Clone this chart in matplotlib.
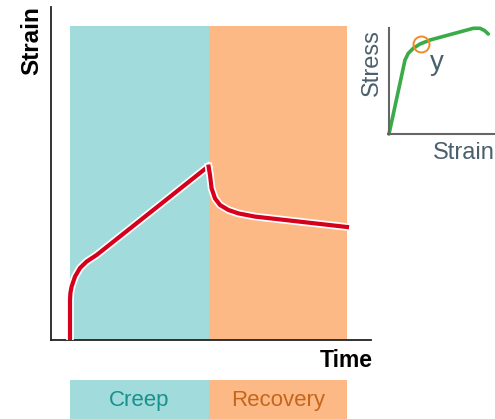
import matplotlib.pyplot as plt
import matplotlib.patheffects as pe

# main chart: strain vs time (arbitrary units)
creep_t = [0.95, 0.95, 0.97, 1.03, 1.2, 1.45, 1.78, 2.28, 7.85]
creep_strain = [0.0, 2.0, 2.35, 2.67, 3.17, 3.6, 3.92, 4.25, 8.67]
recov_t = [7.88, 7.95, 8.03, 8.2, 8.45, 8.87, 9.37, 10.2, 14.8]
recov_strain = [8.67, 8.25, 7.58, 7.08, 6.75, 6.5, 6.33, 6.17, 5.65]
phases = ["Creep", "Recovery"]
phase_start = [0.95, 7.9]
phase_end = [7.9, 14.8]

# inset: stress vs strain
inset_strain = [0, 16, 19.3, 24.3, 31, 41, 84.3, 91, 95.5, 99.3]
inset_stress = [0, 74, 80.7, 85.7, 90, 94, 105.7, 105.7, 103.5, 100]
yield_pt = (31.7, 90)

teal = "#a1dbdb"
orange = "#fdb985"
text_cols = ["#17918c", "#c4661c"]
red = "#d6001c"
green = "#3aab47"
grey_txt = "#4a606c"

fig = plt.figure(figsize=(4.95, 4.19), dpi=100)
ax = fig.add_axes([51 / 495, 79 / 419, 320 / 495, 333 / 419])
ax.set_xlim(0, 16)
ax.set_ylim(0, 16.65)
for s, e, c in zip(phase_start, phase_end, [teal, orange]):
    ax.axvspan(s, e, ymin=0, ymax=15.7 / 16.65, color=c, lw=0)
stroke = [pe.withStroke(linewidth=5.5, foreground="white")]
ax.plot(creep_t, creep_strain, color=red, lw=3, solid_joinstyle="round",
        path_effects=stroke, zorder=3)
ax.plot(recov_t, recov_strain, color=red, lw=3, solid_joinstyle="round",
        path_effects=stroke, zorder=3)
ax.spines[["top", "right"]].set_visible(False)
for sp in ["left", "bottom"]:
    ax.spines[sp].set_linewidth(1.3)
    ax.spines[sp].set_color("#222222")
ax.set_xticks([])
ax.set_yticks([])
fig.text(32 / 495, 1 - 41 / 419, "Strain", rotation=90, ha="center", va="center",
         fontsize=17.5, fontweight="bold", family="Liberation Sans")
fig.text(373 / 495, 1 - 360 / 419, "Time", ha="right", va="center",
         fontsize=16.5, fontweight="bold", family="Liberation Sans")

# phase boxes under the chart
bx = fig.add_axes([51 / 495, 0, 320 / 495, 39 / 419])
bx.set_xlim(0, 16)
bx.set_ylim(0, 1)
bx.axis("off")
for name, s, e, c, tc in zip(phases, phase_start, phase_end, [teal, orange], text_cols):
    bx.axvspan(s, e, color=c, lw=0)
    bx.text((s + e) / 2, 0.47, name, ha="center", va="center", fontsize=16,
            color=tc, family="Liberation Sans")

# inset
ix = fig.add_axes([388 / 495, 285 / 419, 107 / 495, 106 / 419])
ix.set_xlim(-1, 106)
ix.set_ylim(0, 106)
ix.patch.set_visible(False)
ix.plot(inset_strain, inset_stress, color=green, lw=2.6, clip_on=False,
        solid_capstyle="round", solid_joinstyle="round")
ix.plot(*yield_pt, marker="o", ms=11.5, mfc="none", mec="#f5891f", mew=1.4,
        clip_on=False)
ix.text(48, 71, "y", ha="center", va="center", fontsize=20, color=grey_txt,
        family="Liberation Sans")
ix.spines[["top", "right"]].set_visible(False)
ix.spines["left"].set_position(("data", 0))
for sp in ["left", "bottom"]:
    ix.spines[sp].set_linewidth(1.5)
    ix.spines[sp].set_color("#666666")
ix.set_xticks([])
ix.set_yticks([])
fig.text(372 / 495, 1 - 63 / 419, "Stress", rotation=90, ha="center", va="center",
         fontsize=17, color=grey_txt, family="Liberation Sans")
fig.text(495 / 495, 1 - 153 / 419, "Strain", ha="right", va="center",
         fontsize=17, color=grey_txt, family="Liberation Sans")

fig.savefig("out.png", dpi=100)
